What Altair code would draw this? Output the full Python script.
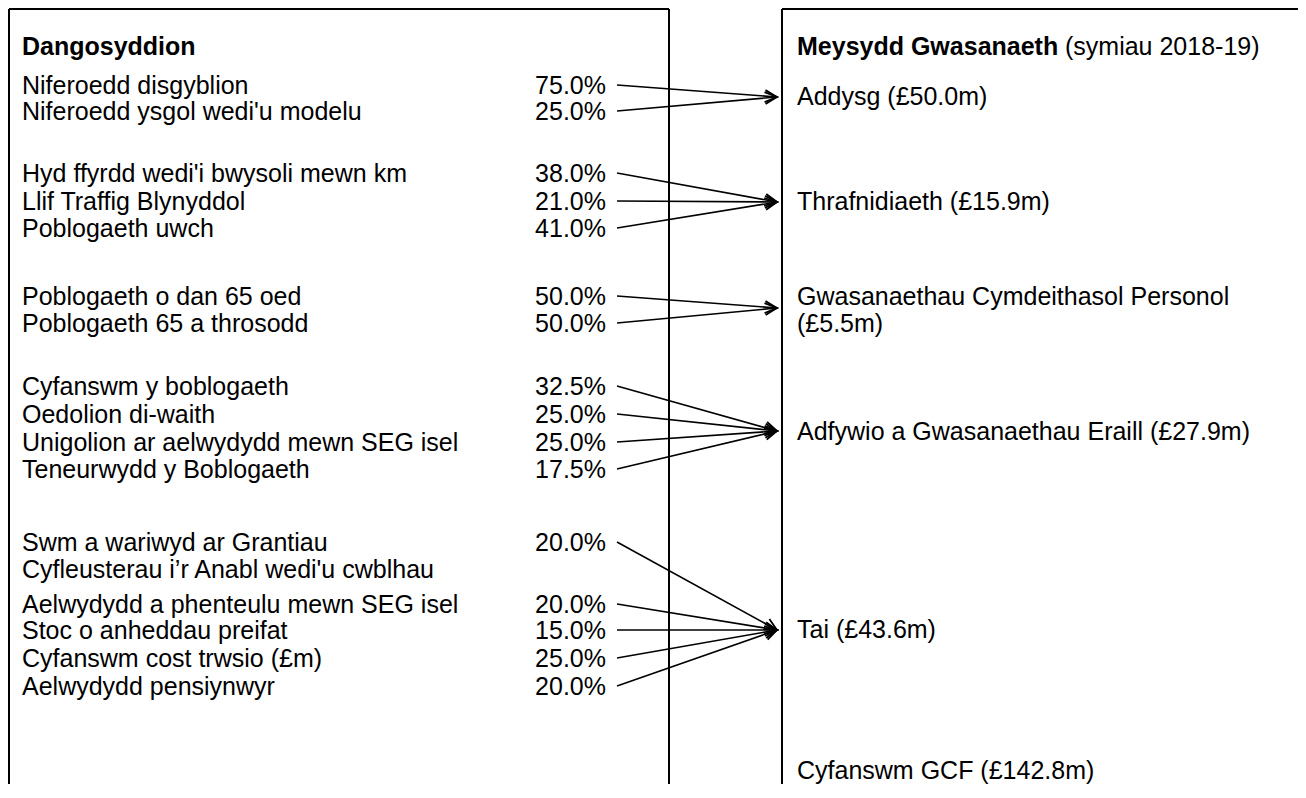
import math
import altair as alt
import pandas as pd

# ---------------- data ----------------
HEAD_LEFT = "Dangosyddion"
HEAD_RIGHT_BOLD = "Meysydd Gwasanaeth"
HEAD_RIGHT_NOTE = "(symiau 2018-19)"

indicators = [
    "Niferoedd disgyblion",
    "Niferoedd ysgol wedi'u modelu",
    "Hyd ffyrdd wedi'i bwysoli mewn km",
    "Llif Traffig Blynyddol",
    "Poblogaeth uwch",
    "Poblogaeth o dan 65 oed",
    "Poblogaeth 65 a throsodd",
    "Cyfanswm y boblogaeth",
    "Oedolion di-waith",
    "Unigolion ar aelwydydd mewn SEG isel",
    "Teneurwydd y Boblogaeth",
    "Swm a wariwyd ar Grantiau|Cyfleusterau i’r Anabl wedi'u cwblhau",
    "Aelwydydd a phenteulu mewn SEG isel",
    "Stoc o anheddau preifat",
    "Cyfanswm cost trwsio (£m)",
    "Aelwydydd pensiynwyr",
]
weights = [75.0, 25.0, 38.0, 21.0, 41.0, 50.0, 50.0, 32.5, 25.0, 25.0, 17.5,
           20.0, 20.0, 15.0, 25.0, 20.0]
indicator_area = [0, 0, 1, 1, 1, 2, 2, 3, 3, 3, 3, 4, 4, 4, 4, 4]

services = [
    "Addysg",
    "Thrafnidiaeth",
    "Gwasanaethau Cymdeithasol Personol",
    "Adfywio a Gwasanaethau Eraill",
    "Tai",
]
service_amounts = [50.0, 15.9, 5.5, 27.9, 43.6]
total_name = "Cyfanswm GCF"
total_amount = 142.8

# ---------------- layout (chart units) ----------------
W, H = 1290, 776
LINE = 27
FS = 25
indicator_y = [78, 104, 166, 194, 221, 289, 316, 379, 407, 435, 462,
               535, 597, 623, 651, 679]
service_y = [89, 194, 289, 424, 622]
service_tip_y = [89, 194, 300, 423, 622]
service_break = [False, False, True, False, False]
total_y = 763
HEAD_Y = 39
X_LABEL, X_PCT, X_ARROW0, X_TIP, X_SERVICE = 14, 598, 609, 769, 789
X_NOTE = X_SERVICE + 268
LEFT_BOX_X, LEFT_BOX_X2, RIGHT_BOX_X = 1, 661, 774

# ---------------- tables ----------------
label_rows = []
for i, name in enumerate(indicators):
    for k, part in enumerate(name.split("|")):
        label_rows.append({"x": X_LABEL, "y": indicator_y[i] + k * LINE, "text": part})
labels = pd.DataFrame(label_rows)

pcts = pd.DataFrame({
    "x": [X_PCT] * len(weights),
    "y": indicator_y,
    "text": [f"{w:.1f}%" for w in weights],
})

svc_rows = []
for j, name in enumerate(services):
    amt = f"(£{service_amounts[j]:.1f}m)"
    if service_break[j]:
        svc_rows.append({"x": X_SERVICE, "y": service_y[j], "text": name})
        svc_rows.append({"x": X_SERVICE, "y": service_y[j] + LINE, "text": amt})
    else:
        svc_rows.append({"x": X_SERVICE, "y": service_y[j], "text": f"{name} {amt}"})
svc_rows.append({"x": X_SERVICE, "y": total_y, "text": f"{total_name} (£{total_amount:.1f}m)"})
svc = pd.DataFrame(svc_rows)

heads_bold = pd.DataFrame({
    "x": [X_LABEL, X_SERVICE], "y": [HEAD_Y, HEAD_Y],
    "text": [HEAD_LEFT, HEAD_RIGHT_BOLD],
})
head_note = pd.DataFrame({"x": [X_NOTE], "y": [HEAD_Y], "text": [HEAD_RIGHT_NOTE]})

arrows = pd.DataFrame({
    "x": [X_ARROW0] * len(weights),
    "y": [y - 1 for y in indicator_y],
    "x2": [X_TIP] * len(weights),
    "y2": [service_tip_y[a] for a in indicator_area],
})
arrows["angle"] = [
    math.degrees(math.atan2(r.y2 - r.y, r.x2 - r.x)) % 360 for r in arrows.itertuples()
]

box = pd.DataFrame({
    "x":  [LEFT_BOX_X, LEFT_BOX_X, LEFT_BOX_X2, RIGHT_BOX_X, RIGHT_BOX_X],
    "x2": [LEFT_BOX_X2, LEFT_BOX_X, LEFT_BOX_X2, W, RIGHT_BOX_X],
    "y":  [1, 1, 1, 1, 1],
    "y2": [1, H, H, 1, H],
})

# ---------------- chart ----------------
xs = alt.Scale(domain=[0, W], nice=False, zero=False)
ys = alt.Scale(domain=[0, H], nice=False, zero=False, reverse=True)
X = alt.X("x:Q", scale=xs, axis=None)
Y = alt.Y("y:Q", scale=ys, axis=None)
FONT = "Liberation Sans"

box_layer = alt.Chart(box).mark_rule(color="black", strokeWidth=2).encode(
    x=X, y=Y, x2="x2:Q", y2="y2:Q")

arrow_layer = alt.Chart(arrows).mark_rule(color="black", strokeWidth=1.6).encode(
    x=X, y=Y, x2="x2:Q", y2="y2:Q")

head_layer = alt.Chart(arrows).mark_point(
    shape="M-1,-0.5L0,0L-1,0.5", filled=False, size=576,
    strokeWidth=1.8, color="black", opacity=1,
).encode(x=alt.X("x2:Q", scale=xs, axis=None),
         y=alt.Y("y2:Q", scale=ys, axis=None),
         angle=alt.Angle("angle:Q", scale=None))

label_layer = alt.Chart(labels).mark_text(
    align="left", baseline="middle", font=FONT, fontSize=FS, color="black"
).encode(x=X, y=Y, text="text:N")

pct_layer = alt.Chart(pcts).mark_text(
    align="right", baseline="middle", font=FONT, fontSize=FS, color="black"
).encode(x=X, y=Y, text="text:N")

svc_layer = alt.Chart(svc).mark_text(
    align="left", baseline="middle", font=FONT, fontSize=FS, color="black"
).encode(x=X, y=Y, text="text:N")

head_layer_txt = alt.Chart(heads_bold).mark_text(
    align="left", baseline="middle", font=FONT, fontSize=FS, fontWeight="bold",
    color="black"
).encode(x=X, y=Y, text="text:N")

note_layer = alt.Chart(head_note).mark_text(
    align="left", baseline="middle", font=FONT, fontSize=FS, color="black"
).encode(x=X, y=Y, text="text:N")

chart = alt.layer(
    box_layer, arrow_layer, head_layer, label_layer, pct_layer, svc_layer,
    head_layer_txt, note_layer,
).properties(
    width=W, height=H, padding=0, autosize=alt.AutoSizeParams(type="none"),
    background="white",
).configure_view(stroke=None)

chart.save("out.html", embed_options={"renderer": "svg", "actions": False})
